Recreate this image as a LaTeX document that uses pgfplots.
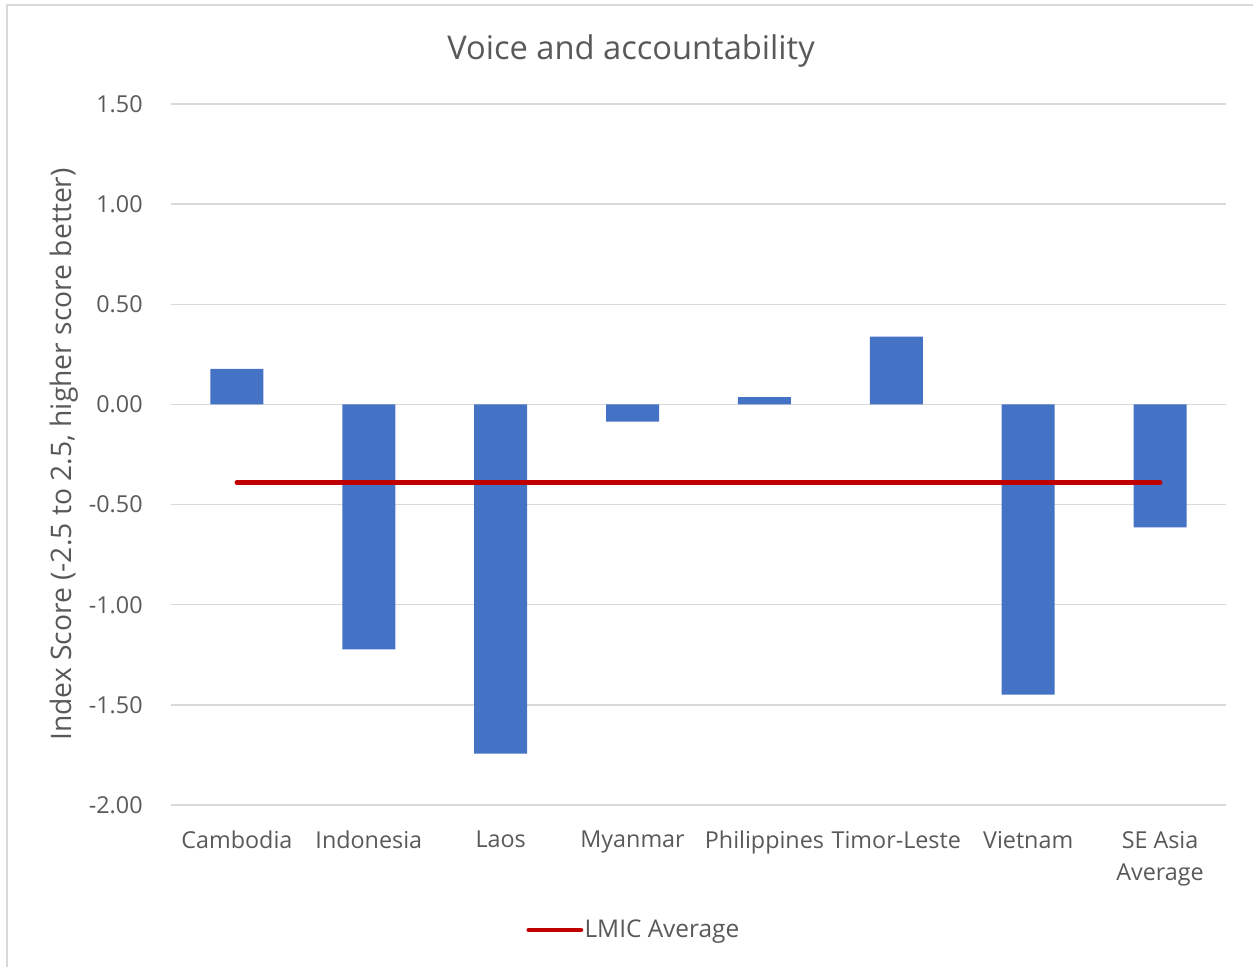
\documentclass[border=0pt]{standalone}
\usepackage{pgfplots}
\pgfplotsset{compat=1.18}
\usepackage{fontspec}
\setmainfont{Open Sans}

\definecolor{barblue}{HTML}{4472C4}
\definecolor{lmicred}{HTML}{C00000}
\definecolor{gridgray}{HTML}{D9D9D9}
\definecolor{textgray}{HTML}{595959}

\begin{document}
\begin{tikzpicture}
\begin{axis}[
  at={(0pt,0pt)}, anchor=south west,
  scale only axis,
  width=791.25pt, height=525.75pt,
  xmin=-0.5, xmax=7.5,
  ymin=-2, ymax=1.5,
  ytick={-2,-1.5,...,1.5},
  xtick={0,...,7},
  xticklabels={Cambodia,Indonesia,Laos,Myanmar,Philippines,Timor-Leste,Vietnam,{SE Asia\\Average}},
  xticklabel style={align=center, font=\fontsize{17.5}{24.5}\selectfont, text=textgray, yshift=-16pt},
  yticklabel style={font=\fontsize{17.5}{21}\selectfont, text=textgray, xshift=-17.75pt,
    /pgf/number format/.cd, fixed, fixed zerofill, precision=2, assume math mode=true},
  major tick length=0pt,
  axis line style={draw=none},
  ymajorgrids,
  grid style={gridgray, line width=1.1pt},
  ylabel={Index Score (-2.5 to 2.5, higher score better)},
  ylabel style={at={(axis description cs:-0.1010,0.5)}, anchor=center,
    font=\fontsize{21.2}{25}\selectfont, text=textgray},
  legend style={draw=none, fill=none, at={(axis description cs:0.4384,-0.1783)}, anchor=center,
    font=\fontsize{18.3}{22}\selectfont, text=textgray,
    nodes={inner sep=1pt}},
  legend image code/.code={\draw[lmicred, line width=3.6pt, line cap=round] (0pt,0pt) -- (39pt,0pt);},
]
\addplot[ybar, bar width=39.75pt, fill=barblue, draw=none, forget plot]
  coordinates {(0,0.177) (1,-1.223) (2,-1.744) (3,-0.086) (4,0.036) (5,0.338) (6,-1.449) (7,-0.614)};
\addplot[lmicred, line width=3.6pt, line cap=round]
  coordinates {(0,-0.39) (1,-0.39) (2,-0.39) (3,-0.39) (4,-0.39) (5,-0.39) (6,-0.39) (7,-0.39)};
\addlegendentry{LMIC Average}
\end{axis}
\node[anchor=base, text=textgray, font=\fontsize{24.5}{29}\selectfont] at (345pt,558.75pt) {Voice and accountability};
\draw[gridgray, line width=1.1pt] (-123pt,-121.5pt) -- (-123pt,600pt) -- (811.5pt,600pt);
\pgfresetboundingbox
\path[use as bounding box] (-128.25pt,-121.5pt) rectangle (811.5pt,603.75pt);
\end{tikzpicture}
\end{document}
